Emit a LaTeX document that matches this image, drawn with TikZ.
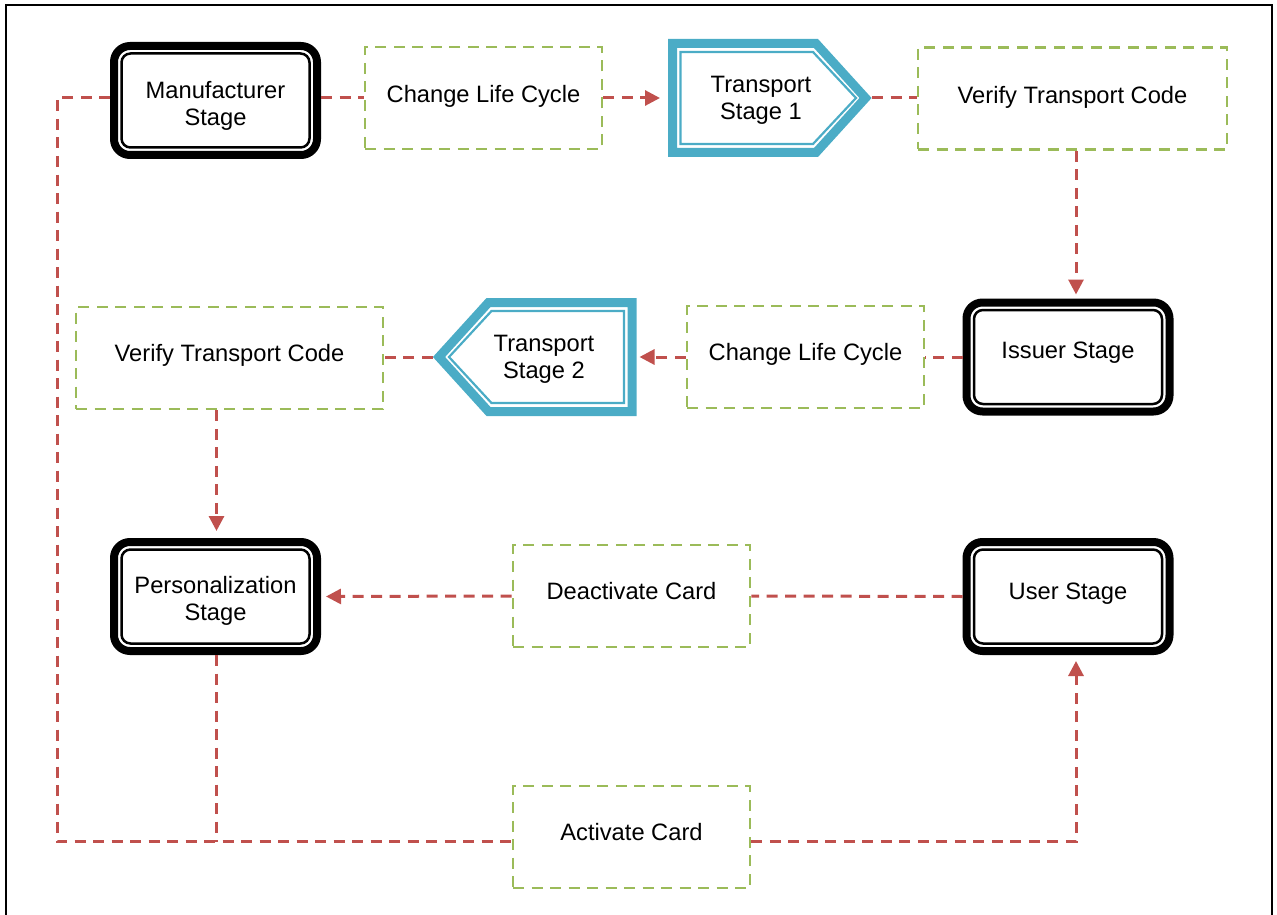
\documentclass[tikz,border=0pt]{standalone}
\usepackage{fontspec}
\setmainfont{Liberation Sans}
\usetikzlibrary{arrows.meta}
\definecolor{cred}{HTML}{C0504D}
\definecolor{cgreen}{HTML}{9BBB59}
\definecolor{ccyan}{HTML}{4BACC6}
\begin{document}
\begin{tikzpicture}[x=1pt,y=-1pt,
  every node/.style={font=\fontsize{23.7}{27}\selectfont, align=center},
  one/.style={text height=15pt, text depth=9pt},
  onehi/.style={text height=17pt, text depth=7pt},
  stagebox/.style={rectangle, draw=black, line width=8pt, rounded corners=16pt,
    minimum width=203pt, minimum height=109pt, inner sep=0pt},
  stageinner/.style={draw=black, line width=2.5pt, rounded corners=9pt},
  taskbox/.style={rectangle, draw=cgreen, line width=2.6pt, dash pattern=on 11pt off 7.5pt,
    minimum width=237pt, minimum height=102pt, inner sep=0pt},
  shapebox/.style={rectangle, minimum width=204pt, minimum height=118pt, inner sep=0pt, outer sep=0pt},
  transouter/.style={draw=ccyan, line width=9pt, miter limit=10},
  transinner/.style={draw=ccyan, line width=2.2pt, miter limit=10},
  conn/.style={draw=cred, line width=3pt, dash pattern=on 11pt off 7.5pt},
  arr/.style={conn, -{Triangle[length=15pt,width=15pt]}}
]
\useasboundingbox (0,0) rectangle (1277,915);
\draw[line width=2.5pt] (6,916) -- (6,5) -- (1272,5) -- (1272,916);

% helper coordinates for connector columns/rows
\coordinate (colL) at (216.5,0);
\coordinate (colR) at (1076,0);
\coordinate (loopL) at (57,0);
\coordinate (bot) at (0,841.5);

% stage nodes
\node[stagebox] (man) at (215.5,100.5) {};
\node (manlab) at ([yshift=-5pt]man.center) {Manufacturer\\Stage};
\node[stagebox, text height=13pt, text depth=9.4pt] (iss) at (1068,357) {Issuer Stage};
\node[stagebox] (per) at (215.5,596.5) {};
\node (perlab) at ([yshift=-4.5pt]per.center) {Personalization\\Stage};
\node[stagebox, one] (usr) at (1068,596.5) {User Stage};
\foreach \n in {man,iss,per,usr}
  \draw[stageinner] ([xshift=11.5pt,yshift=-11.5pt]\n.north west) rectangle ([xshift=-11.5pt,yshift=11.5pt]\n.south east);

% task nodes
\node[taskbox, onehi] (clc1) at (483.5,98) {Change Life Cycle};
\node[taskbox, onehi, minimum width=309pt] (vt1) at (1072.5,98.5) {Verify Transport Code};
\node[taskbox, one] (clc2) at (805.5,357) {Change Life Cycle};
\node[taskbox, one, minimum width=307pt] (vt2) at (229.5,358) {Verify Transport Code};
\node[taskbox, one] (deact) at (631.5,596) {Deactivate Card};
\node[taskbox, one] (act) at (631.5,837) {Activate Card};

% transport stages
\node[shapebox] (t1) at (770,98) {};
\draw[transouter] (672.5,43.5) -- (816,43.5) -- (865.5,98) -- (816,152.5) -- (672.5,152.5) -- cycle;
\draw[transinner] (680.5,52) -- (813,52) -- (856,98) -- (813,144) -- (680.5,144) -- cycle;
\node (t1lab) at (761,100) {Transport\\Stage 1};

\node[shapebox] (t2) at (534.5,357) {};
\draw[transouter] (632,302.5) -- (488.5,302.5) -- (439,357) -- (488.5,411.5) -- (632,411.5) -- cycle;
\draw[transinner] (624,311) -- (491.5,311) -- (449,357) -- (491.5,403) -- (624,403) -- cycle;
\node (t2lab) at (544,359.5) {Transport\\Stage 2};

% connectors row 1
\draw[conn] (man.east |- clc1.west) -- (clc1.west);
\draw[arr, shorten >=8pt] (clc1.east) -- (t1.west);
\draw[conn] (t1.east) -- (vt1.west |- t1.east);
\draw[arr, shorten >=4pt] (vt1.south -| colR) -- (iss.north -| colR);
% row 2
\draw[conn] (iss.west) -- (clc2.east);
\draw[arr, shorten >=3pt] (clc2.west) -- (t2.east);
\draw[conn] (t2.west) -- (vt2.east |- t2.west);
\draw[arr, shorten >=7pt] (vt2.south -| colL) -- (per.north -| colL);
% row 3
\draw[conn] (usr.west) -- (deact.east);
\draw[arr, shorten >=5pt] (deact.west) -- (per.east);
% bottom loop
\draw[conn] (per.south -| colL) -- (colL |- bot);
\draw[conn] (man.west |- clc1.west) -- (loopL |- clc1.west) -- (loopL |- bot) -- (act.west |- bot);
\draw[arr, shorten >=6pt] (act.east |- bot) -- (colR |- bot) -- (usr.south -| colR);
\end{tikzpicture}
\end{document}
